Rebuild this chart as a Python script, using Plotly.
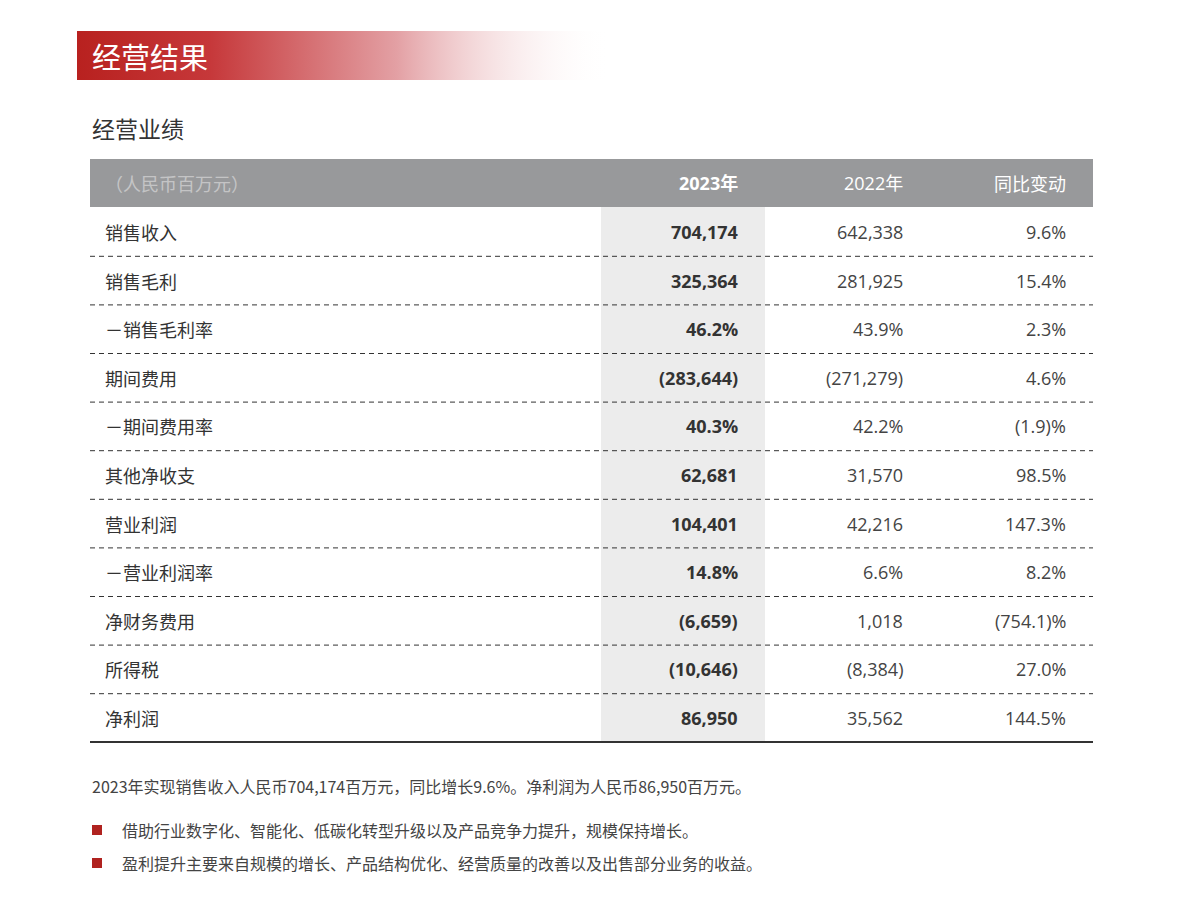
import plotly.graph_objects as go

title = "经营结果"
subtitle = "经营业绩"
header = ["（人民币百万元）", "2023年", "2022年", "同比变动"]
labels = ["销售收入", "销售毛利", "－销售毛利率", "期间费用", "－期间费用率", "其他净收支",
          "营业利润", "－营业利润率", "净财务费用", "所得税", "净利润"]
v2023 = ["704,174", "325,364", "46.2%", "(283,644)", "40.3%", "62,681", "104,401", "14.8%",
         "(6,659)", "(10,646)", "86,950"]
v2022 = ["642,338", "281,925", "43.9%", "(271,279)", "42.2%", "31,570", "42,216", "6.6%",
         "1,018", "(8,384)", "35,562"]
yoy = ["9.6%", "15.4%", "2.3%", "4.6%", "(1.9)%", "98.5%", "147.3%", "8.2%", "(754.1)%",
       "27.0%", "144.5%"]
summary = "2023年实现销售收入人民币704,174百万元，同比增长9.6%。净利润为人民币86,950百万元。"
bullets = ["借助行业数字化、智能化、低碳化转型升级以及产品竞争力提升，规模保持增长。",
           "盈利提升主要来自规模的增长、产品结构优化、经营质量的改善以及出售部分业务的收益。"]

F = "Open Sans, Noto Sans CJK SC"
CJK = "Noto Sans CJK SC"
fig = go.Figure()
fig.add_trace(go.Scatter(x=[77, 610, 610, 77, 77], y=[31, 31, 80, 80, 31], mode="lines",
                         line=dict(width=0), fill="toself", hoverinfo="skip",
                         fillgradient=dict(type="horizontal",
                                           colorscale=[[0, "#b8211f"], [0.25, "#c6383a"], [0.6, "#e3a0a4"], [1, "rgba(255,255,255,0)"]])))
shapes = []
ann = []
ann.append(dict(x=90, y=56, text=title, xanchor="left", font=dict(family=CJK, size=29, color="white")))
ann.append(dict(x=90, y=128, text=subtitle, xanchor="left", font=dict(family=CJK, size=23, color="#333")))
shapes.append(dict(type="rect", x0=90, x1=1093, y0=159, y1=207, fillcolor="#98999b", line_width=0, layer="below"))
shapes.append(dict(type="rect", x0=601, x1=765, y0=207, y1=742, fillcolor="#ececec", line_width=0, layer="below"))
xr = [740, 905, 1068]
ann.append(dict(x=103, y=183, text=header[0], xanchor="left", font=dict(family=CJK, size=18, color="rgba(235,235,235,0.55)")))
ann.append(dict(x=xr[0], y=183, text="<b>" + header[1] + "</b>", xanchor="right", font=dict(family=F, size=18, color="white")))
ann.append(dict(x=xr[1], y=183, text=header[2], xanchor="right", font=dict(family=F, size=18, color="white")))
ann.append(dict(x=xr[2], y=183, text=header[3], xanchor="right", font=dict(family=CJK, size=18, color="white")))
y0, dy = 232, 48.6
for i, lab in enumerate(labels):
    y = y0 + i * dy
    ann.append(dict(x=103, y=y, text=lab, xanchor="left", font=dict(family=CJK, size=18, color="#333")))
    ann.append(dict(x=xr[0], y=y, text="<b>" + v2023[i] + "</b>", xanchor="right", font=dict(family=F, size=18, color="#333")))
    ann.append(dict(x=xr[1], y=y, text=v2022[i], xanchor="right", font=dict(family=F, size=18, color="#444")))
    ann.append(dict(x=xr[2], y=y, text=yoy[i], xanchor="right", font=dict(family=F, size=18, color="#444")))
    if i < len(labels) - 1:
        ly = y + dy / 2
        shapes.append(dict(type="line", x0=90, x1=1093, y0=ly, y1=ly, line=dict(color="#333", width=1, dash="5px,4px")))
shapes.append(dict(type="line", x0=90, x1=1093, y0=742, y1=742, line=dict(color="#333", width=2)))
ann.append(dict(x=90, y=786, text=summary, xanchor="left", font=dict(family=CJK, size=16, color="#444")))
for j, b in enumerate(bullets):
    by = 830 + j * 33
    shapes.append(dict(type="rect", x0=92, x1=102, y0=by - 5, y1=by + 5, fillcolor="#b0221f", line_width=0))
    ann.append(dict(x=120, y=by, text=b, xanchor="left", font=dict(family=CJK, size=16, color="#444")))
for a in ann:
    a.update(xref="x", yref="y", showarrow=False, yanchor="middle")
fig.update_layout(width=1200, height=897, margin=dict(l=0, r=0, t=0, b=0), showlegend=False,
                  plot_bgcolor="white", paper_bgcolor="white", shapes=shapes, annotations=ann,
                  xaxis=dict(range=[8, 1208], visible=False, fixedrange=True),
                  yaxis=dict(range=[905, 8], visible=False, fixedrange=True))
fig.write_html("out.html", config={"displayModeBar": False})
